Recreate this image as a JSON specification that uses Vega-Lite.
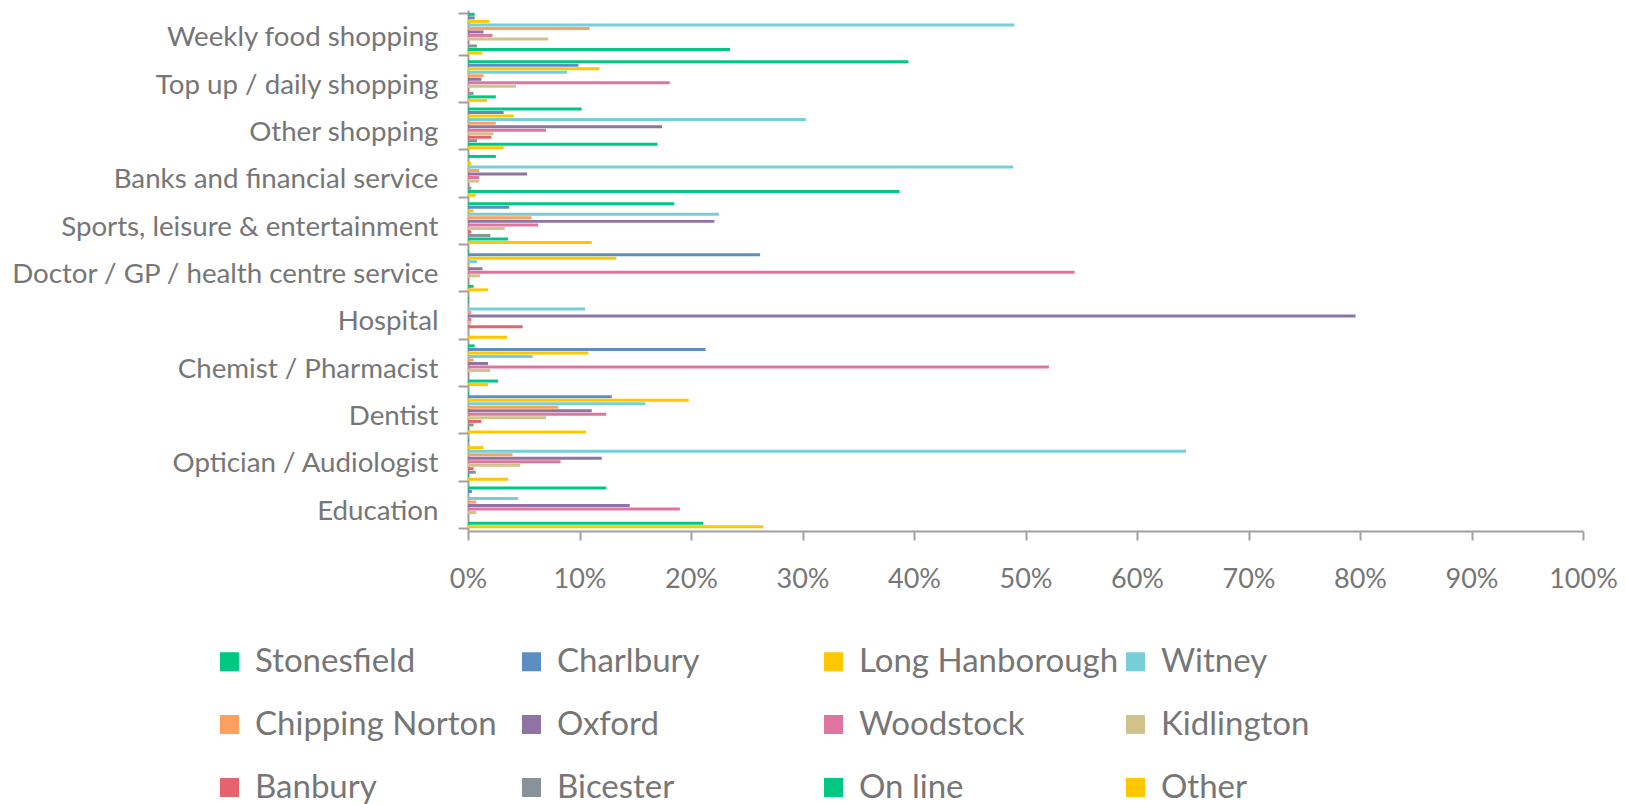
{
  "$schema": "https://vega.github.io/schema/vega-lite/v6.json",
  "width": 1115,
  "height": 521,
  "autosize": {"type": "none"},
  "padding": {"left": 468, "top": 10, "right": 43, "bottom": 273},
  "background": "white",
  "config": {"view": {"stroke": null}, "font": "Lato"},
  "data": {"values": [
    {"category": "Weekly food shopping", "series": "Stonesfield", "pct": 0.6},
    {"category": "Weekly food shopping", "series": "Charlbury", "pct": 0.6},
    {"category": "Weekly food shopping", "series": "Long Hanborough", "pct": 1.9},
    {"category": "Weekly food shopping", "series": "Witney", "pct": 49.0},
    {"category": "Weekly food shopping", "series": "Chipping Norton", "pct": 10.9},
    {"category": "Weekly food shopping", "series": "Oxford", "pct": 1.4},
    {"category": "Weekly food shopping", "series": "Woodstock", "pct": 2.2},
    {"category": "Weekly food shopping", "series": "Kidlington", "pct": 7.2},
    {"category": "Weekly food shopping", "series": "Banbury", "pct": 0.1},
    {"category": "Weekly food shopping", "series": "Bicester", "pct": 0.8},
    {"category": "Weekly food shopping", "series": "On line", "pct": 23.5},
    {"category": "Weekly food shopping", "series": "Other", "pct": 1.3},

    {"category": "Top up / daily shopping", "series": "Stonesfield", "pct": 39.5},
    {"category": "Top up / daily shopping", "series": "Charlbury", "pct": 9.9},
    {"category": "Top up / daily shopping", "series": "Long Hanborough", "pct": 11.8},
    {"category": "Top up / daily shopping", "series": "Witney", "pct": 8.9},
    {"category": "Top up / daily shopping", "series": "Chipping Norton", "pct": 1.4},
    {"category": "Top up / daily shopping", "series": "Oxford", "pct": 1.2},
    {"category": "Top up / daily shopping", "series": "Woodstock", "pct": 18.1},
    {"category": "Top up / daily shopping", "series": "Kidlington", "pct": 4.3},
    {"category": "Top up / daily shopping", "series": "Banbury", "pct": 0.1},
    {"category": "Top up / daily shopping", "series": "Bicester", "pct": 0.5},
    {"category": "Top up / daily shopping", "series": "On line", "pct": 2.5},
    {"category": "Top up / daily shopping", "series": "Other", "pct": 1.7},

    {"category": "Other shopping", "series": "Stonesfield", "pct": 10.2},
    {"category": "Other shopping", "series": "Charlbury", "pct": 3.2},
    {"category": "Other shopping", "series": "Long Hanborough", "pct": 4.1},
    {"category": "Other shopping", "series": "Witney", "pct": 30.3},
    {"category": "Other shopping", "series": "Chipping Norton", "pct": 2.5},
    {"category": "Other shopping", "series": "Oxford", "pct": 17.4},
    {"category": "Other shopping", "series": "Woodstock", "pct": 7.0},
    {"category": "Other shopping", "series": "Kidlington", "pct": 2.3},
    {"category": "Other shopping", "series": "Banbury", "pct": 2.1},
    {"category": "Other shopping", "series": "Bicester", "pct": 0.8},
    {"category": "Other shopping", "series": "On line", "pct": 17.0},
    {"category": "Other shopping", "series": "Other", "pct": 3.2},

    {"category": "Banks and financial service", "series": "Stonesfield", "pct": 2.5},
    {"category": "Banks and financial service", "series": "Charlbury", "pct": 0},
    {"category": "Banks and financial service", "series": "Long Hanborough", "pct": 0.3},
    {"category": "Banks and financial service", "series": "Witney", "pct": 48.9},
    {"category": "Banks and financial service", "series": "Chipping Norton", "pct": 1.0},
    {"category": "Banks and financial service", "series": "Oxford", "pct": 5.3},
    {"category": "Banks and financial service", "series": "Woodstock", "pct": 1.0},
    {"category": "Banks and financial service", "series": "Kidlington", "pct": 1.0},
    {"category": "Banks and financial service", "series": "Banbury", "pct": 0.1},
    {"category": "Banks and financial service", "series": "Bicester", "pct": 0.3},
    {"category": "Banks and financial service", "series": "On line", "pct": 38.7},
    {"category": "Banks and financial service", "series": "Other", "pct": 0.7},

    {"category": "Sports, leisure & entertainment", "series": "Stonesfield", "pct": 18.5},
    {"category": "Sports, leisure & entertainment", "series": "Charlbury", "pct": 3.7},
    {"category": "Sports, leisure & entertainment", "series": "Long Hanborough", "pct": 0.5},
    {"category": "Sports, leisure & entertainment", "series": "Witney", "pct": 22.5},
    {"category": "Sports, leisure & entertainment", "series": "Chipping Norton", "pct": 5.7},
    {"category": "Sports, leisure & entertainment", "series": "Oxford", "pct": 22.1},
    {"category": "Sports, leisure & entertainment", "series": "Woodstock", "pct": 6.3},
    {"category": "Sports, leisure & entertainment", "series": "Kidlington", "pct": 3.3},
    {"category": "Sports, leisure & entertainment", "series": "Banbury", "pct": 0.3},
    {"category": "Sports, leisure & entertainment", "series": "Bicester", "pct": 2.0},
    {"category": "Sports, leisure & entertainment", "series": "On line", "pct": 3.6},
    {"category": "Sports, leisure & entertainment", "series": "Other", "pct": 11.1},

    {"category": "Doctor / GP / health centre service", "series": "Stonesfield", "pct": 0.1},
    {"category": "Doctor / GP / health centre service", "series": "Charlbury", "pct": 26.2},
    {"category": "Doctor / GP / health centre service", "series": "Long Hanborough", "pct": 13.3},
    {"category": "Doctor / GP / health centre service", "series": "Witney", "pct": 0.8},
    {"category": "Doctor / GP / health centre service", "series": "Chipping Norton", "pct": 0.1},
    {"category": "Doctor / GP / health centre service", "series": "Oxford", "pct": 1.3},
    {"category": "Doctor / GP / health centre service", "series": "Woodstock", "pct": 54.4},
    {"category": "Doctor / GP / health centre service", "series": "Kidlington", "pct": 1.1},
    {"category": "Doctor / GP / health centre service", "series": "Banbury", "pct": 0.05},
    {"category": "Doctor / GP / health centre service", "series": "Bicester", "pct": 0.1},
    {"category": "Doctor / GP / health centre service", "series": "On line", "pct": 0.5},
    {"category": "Doctor / GP / health centre service", "series": "Other", "pct": 1.8},

    {"category": "Hospital", "series": "Stonesfield", "pct": 0.1},
    {"category": "Hospital", "series": "Charlbury", "pct": 0.1},
    {"category": "Hospital", "series": "Long Hanborough", "pct": 0},
    {"category": "Hospital", "series": "Witney", "pct": 10.5},
    {"category": "Hospital", "series": "Chipping Norton", "pct": 0.3},
    {"category": "Hospital", "series": "Oxford", "pct": 79.6},
    {"category": "Hospital", "series": "Woodstock", "pct": 0.3},
    {"category": "Hospital", "series": "Kidlington", "pct": 0.3},
    {"category": "Hospital", "series": "Banbury", "pct": 4.9},
    {"category": "Hospital", "series": "Bicester", "pct": 0},
    {"category": "Hospital", "series": "On line", "pct": 0},
    {"category": "Hospital", "series": "Other", "pct": 3.5},

    {"category": "Chemist / Pharmacist", "series": "Stonesfield", "pct": 0.6},
    {"category": "Chemist / Pharmacist", "series": "Charlbury", "pct": 21.3},
    {"category": "Chemist / Pharmacist", "series": "Long Hanborough", "pct": 10.8},
    {"category": "Chemist / Pharmacist", "series": "Witney", "pct": 5.8},
    {"category": "Chemist / Pharmacist", "series": "Chipping Norton", "pct": 0.5},
    {"category": "Chemist / Pharmacist", "series": "Oxford", "pct": 1.8},
    {"category": "Chemist / Pharmacist", "series": "Woodstock", "pct": 52.1},
    {"category": "Chemist / Pharmacist", "series": "Kidlington", "pct": 2.0},
    {"category": "Chemist / Pharmacist", "series": "Banbury", "pct": 0.1},
    {"category": "Chemist / Pharmacist", "series": "Bicester", "pct": 0.1},
    {"category": "Chemist / Pharmacist", "series": "On line", "pct": 2.7},
    {"category": "Chemist / Pharmacist", "series": "Other", "pct": 1.8},

    {"category": "Dentist", "series": "Stonesfield", "pct": 0.1},
    {"category": "Dentist", "series": "Charlbury", "pct": 12.9},
    {"category": "Dentist", "series": "Long Hanborough", "pct": 19.8},
    {"category": "Dentist", "series": "Witney", "pct": 15.9},
    {"category": "Dentist", "series": "Chipping Norton", "pct": 8.1},
    {"category": "Dentist", "series": "Oxford", "pct": 11.1},
    {"category": "Dentist", "series": "Woodstock", "pct": 12.4},
    {"category": "Dentist", "series": "Kidlington", "pct": 7.0},
    {"category": "Dentist", "series": "Banbury", "pct": 1.2},
    {"category": "Dentist", "series": "Bicester", "pct": 0.5},
    {"category": "Dentist", "series": "On line", "pct": 0.1},
    {"category": "Dentist", "series": "Other", "pct": 10.6},

    {"category": "Optician / Audiologist", "series": "Stonesfield", "pct": 0.1},
    {"category": "Optician / Audiologist", "series": "Charlbury", "pct": 0},
    {"category": "Optician / Audiologist", "series": "Long Hanborough", "pct": 1.4},
    {"category": "Optician / Audiologist", "series": "Witney", "pct": 64.4},
    {"category": "Optician / Audiologist", "series": "Chipping Norton", "pct": 4.0},
    {"category": "Optician / Audiologist", "series": "Oxford", "pct": 12.0},
    {"category": "Optician / Audiologist", "series": "Woodstock", "pct": 8.3},
    {"category": "Optician / Audiologist", "series": "Kidlington", "pct": 4.7},
    {"category": "Optician / Audiologist", "series": "Banbury", "pct": 0.5},
    {"category": "Optician / Audiologist", "series": "Bicester", "pct": 0.7},
    {"category": "Optician / Audiologist", "series": "On line", "pct": 0.1},
    {"category": "Optician / Audiologist", "series": "Other", "pct": 3.6},

    {"category": "Education", "series": "Stonesfield", "pct": 12.4},
    {"category": "Education", "series": "Charlbury", "pct": 0.35},
    {"category": "Education", "series": "Long Hanborough", "pct": 0},
    {"category": "Education", "series": "Witney", "pct": 4.5},
    {"category": "Education", "series": "Chipping Norton", "pct": 0.75},
    {"category": "Education", "series": "Oxford", "pct": 14.5},
    {"category": "Education", "series": "Woodstock", "pct": 19.0},
    {"category": "Education", "series": "Kidlington", "pct": 0.75},
    {"category": "Education", "series": "Banbury", "pct": 0},
    {"category": "Education", "series": "Bicester", "pct": 0},
    {"category": "Education", "series": "On line", "pct": 21.1},
    {"category": "Education", "series": "Other", "pct": 26.5}
  ]},
  "mark": {"type": "bar"},
  "encoding": {
    "y": {
      "field": "category",
      "type": "nominal",
      "sort": ["Weekly food shopping", "Top up / daily shopping", "Other shopping", "Banks and financial service", "Sports, leisure & entertainment", "Doctor / GP / health centre service", "Hospital", "Chemist / Pharmacist", "Dentist", "Optician / Audiologist", "Education"],
      "scale": {"paddingInner": 0.12, "paddingOuter": 0.06},
      "axis": {
        "title": null,
        "tickBand": "extent",
        "tickSize": 10,
        "tickWidth": 2,
        "tickColor": "#A0A0A0",
        "domainColor": "#A0A0A0",
        "domainWidth": 2,
        "labelPadding": 20,
        "labelOffset": 4,
        "labelFontSize": 27.7,
        "labelColor": "#767676",
        "labelLimit": 500
      }
    },
    "yOffset": {
      "field": "series",
      "type": "nominal",
      "sort": ["Stonesfield", "Charlbury", "Long Hanborough", "Witney", "Chipping Norton", "Oxford", "Woodstock", "Kidlington", "Banbury", "Bicester", "On line", "Other"],
      "scale": {"paddingInner": 0.15}
    },
    "x": {
      "field": "pct",
      "type": "quantitative",
      "scale": {"domain": [0, 100], "nice": false},
      "axis": {
        "title": null,
        "values": [0, 10, 20, 30, 40, 50, 60, 70, 80, 90, 100],
        "labelExpr": "datum.value + '%'",
        "grid": false,
        "tickSize": 9,
        "tickWidth": 2,
        "tickColor": "#A0A0A0",
        "domainColor": "#A0A0A0",
        "domainWidth": 2,
        "labelPadding": 26,
        "labelFontSize": 27,
        "labelColor": "#767676",
        "labelFlush": false,
        "labelOverlap": false
      }
    },
    "color": {
      "field": "series",
      "type": "nominal",
      "sort": ["Stonesfield", "Charlbury", "Long Hanborough", "Witney", "Chipping Norton", "Oxford", "Woodstock", "Kidlington", "Banbury", "Bicester", "On line", "Other"],
      "scale": {
        "domain": ["Stonesfield", "Charlbury", "Long Hanborough", "Witney", "Chipping Norton", "Oxford", "Woodstock", "Kidlington", "Banbury", "Bicester", "On line", "Other"],
        "range": ["#00C781", "#5C8EC4", "#FFC700", "#76CFD6", "#FF9F5F", "#8F73A3", "#DF74A0", "#D1C18D", "#E5636C", "#8A9299", "#00C781", "#FFC700"]
      },
      "legend": {
        "title": null,
        "orient": "none",
        "direction": "horizontal",
        "legendX": -255,
        "legendY": 635,
        "columns": 4,
        "gridAlign": "all",
        "columnPadding": 0,
        "rowPadding": 29,
        "symbolType": "square",
        "symbolSize": 361,
        "symbolStrokeWidth": 0,
        "symbolOpacity": 1,
        "labelFontSize": 33,
        "labelColor": "#767676",
        "labelOffset": 9,
        "labelLimit": 400
      }
    }
  }
}
